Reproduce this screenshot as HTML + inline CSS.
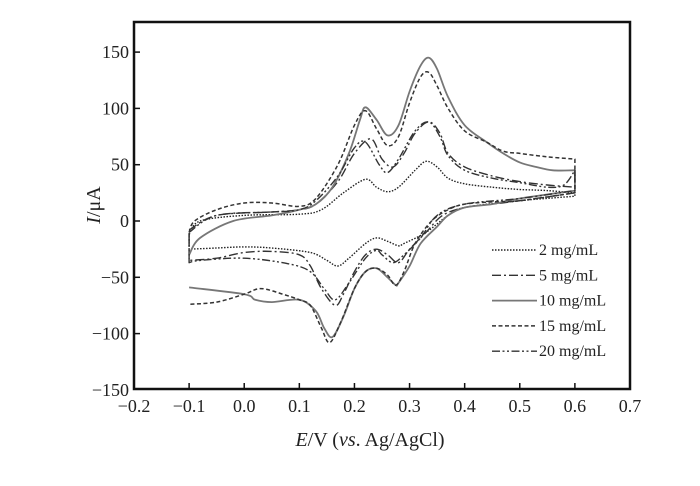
<!DOCTYPE html>
<html><head><meta charset="utf-8"><style>
html,body{margin:0;padding:0;background:#fff;}
svg text{font-family:"Liberation Serif",serif;fill:#222;}
</style></head><body>
<svg id="chart" width="700" height="481" viewBox="0 0 700 481" xmlns="http://www.w3.org/2000/svg">
<g id="plot"></g>
</svg>
<script>
const xTicks=[-0.2,-0.1,0.0,0.1,0.2,0.3,0.4,0.5,0.6,0.7];
const xTickLabels=["\u22120.2","\u22120.1","0.0","0.1","0.2","0.3","0.4","0.5","0.6","0.7"];
const yTicks=[150,100,50,0,-50,-100,-150];
const yTickLabels=["150","100","50","0","\u221250","\u2212100","\u2212150"];
const seriesNames=["2 mg/mL","5 mg/mL","10 mg/mL","15 mg/mL","20 mg/mL"];
const e2=[-0.1,-0.08,0.0,0.1,0.14,0.18,0.22,0.24,0.26,0.28,0.31,0.33,0.35,0.37,0.4,0.45,0.5,0.55,0.6,0.6,0.5,0.4,0.37,0.33,0.29,0.28,0.26,0.24,0.22,0.19,0.17,0.15,0.12,0.05,0.0,-0.05,-0.1,-0.1];
const i2=[-12,0,5,6,10,25,37,30,26,30,45,53,48,38,33,30,28,27,25,22,18,12,5,-10,-20,-22,-18,-15,-20,-33,-40,-35,-28,-24,-23,-24,-25,-12];
const e5=[-0.1,-0.05,0.05,0.1,0.13,0.17,0.2,0.23,0.25,0.27,0.29,0.31,0.335,0.355,0.37,0.4,0.45,0.5,0.55,0.6,0.6,0.5,0.45,0.4,0.36,0.33,0.3,0.28,0.26,0.24,0.22,0.2,0.18,0.165,0.14,0.12,0.1,0.05,0.0,-0.05,-0.1,-0.1];
const i5=[-8,5,8,10,15,35,60,73,55,48,60,78,88,78,60,48,40,35,32,30,25,18,15,12,5,-10,-25,-37,-30,-25,-30,-45,-65,-75,-60,-40,-30,-27,-28,-33,-35,-8];
const e10=[-0.1,-0.08,-0.02,0.05,0.1,0.13,0.16,0.19,0.21,0.22,0.24,0.26,0.28,0.3,0.32,0.335,0.35,0.37,0.4,0.44,0.47,0.5,0.53,0.56,0.6,0.6,0.5,0.45,0.4,0.37,0.35,0.32,0.3,0.28,0.275,0.26,0.24,0.22,0.2,0.18,0.16,0.145,0.13,0.1,0.05,0.02,0.0,-0.1];
const i10=[-30,-15,0,5,10,15,30,60,90,101,90,76,85,115,138,145,135,110,85,70,60,52,48,45,45,27,20,15,12,5,-5,-20,-40,-55,-57,-50,-42,-45,-60,-85,-103,-95,-80,-70,-72,-70,-65,-59];
const e15=[-0.1,-0.09,-0.05,0.0,0.05,0.1,0.13,0.17,0.2,0.22,0.24,0.26,0.28,0.3,0.32,0.335,0.35,0.37,0.4,0.44,0.47,0.5,0.55,0.6,0.6,0.5,0.45,0.4,0.37,0.34,0.31,0.29,0.275,0.26,0.24,0.22,0.2,0.175,0.155,0.14,0.12,0.1,0.07,0.03,0.0,-0.05,-0.1];
const i15=[-10,0,10,16,16,13,20,50,85,98,82,67,75,105,128,132,120,100,80,70,62,60,57,55,25,18,17,15,10,0,-20,-45,-57,-48,-42,-45,-60,-90,-108,-95,-75,-70,-65,-60,-65,-72,-74];
const e20=[-0.1,-0.05,0.05,0.1,0.13,0.17,0.2,0.22,0.245,0.26,0.28,0.31,0.335,0.355,0.37,0.4,0.45,0.5,0.55,0.58,0.6,0.6,0.5,0.4,0.35,0.32,0.29,0.27,0.25,0.24,0.22,0.19,0.165,0.145,0.12,0.08,0.0,-0.08,-0.1,-0.1];
const i20=[-10,5,8,10,18,40,65,70,50,43,55,80,88,75,58,45,38,34,30,32,45,27,20,15,5,-15,-30,-37,-30,-26,-33,-55,-70,-60,-45,-38,-33,-35,-37,-10];

const L=134,R=630,T=22,B=389;
const X=v=>L+(v+0.2)/0.9*(R-L);
const Y=v=>221-v*(56.3/50);
const NS="http://www.w3.org/2000/svg";
const svg=document.getElementById('chart');
function mk(tag,attrs,parent){const e=document.createElementNS(NS,tag);for(const k in attrs)e.setAttribute(k,attrs[k]);(parent||svg).appendChild(e);return e;}
function smoothPath(pts){
  let d="M"+pts[0][0].toFixed(1)+","+pts[0][1].toFixed(1);
  const n=pts.length;
  for(let i=0;i<n-1;i++){
    const p1=pts[i],p2=pts[i+1];
    if(Math.abs(p2[0]-p1[0])<0.5){d+="L"+p2[0].toFixed(1)+","+p2[1].toFixed(1);continue;}
    let p0=pts[Math.max(0,i-1)],p3=pts[Math.min(n-1,i+2)];
    if(Math.abs(p1[0]-p0[0])<0.5)p0=p1;
    if(Math.abs(p3[0]-p2[0])<0.5)p3=p2;
    const t=0.5/3;
    const lo=Math.min(p1[0],p2[0]),hi=Math.max(p1[0],p2[0]);
    const cl=v=>Math.max(lo,Math.min(hi,v));
    const c1=[cl(p1[0]+(p2[0]-p0[0])*t),p1[1]+(p2[1]-p0[1])*t];
    const c2=[cl(p2[0]-(p3[0]-p1[0])*t),p2[1]-(p3[1]-p1[1])*t];
    d+="C"+c1[0].toFixed(1)+","+c1[1].toFixed(1)+" "+c2[0].toFixed(1)+","+c2[1].toFixed(1)+" "+p2[0].toFixed(1)+","+p2[1].toFixed(1);
  }
  return d;
}

const styles=[
 {stroke:"#222",dash:"1.5 1.5",w:1.4},
 {stroke:"#333",dash:"9 3 2 3",w:1.4},
 {stroke:"#777",dash:"",w:1.8},
 {stroke:"#333",dash:"4 2.5",w:1.5},
 {stroke:"#333",dash:"8 2.5 2 2.5 2 2.5",w:1.4}];
const xs=[e2,e5,e10,e15,e20], ys=[i2,i5,i10,i15,i20];
const keys=["2","5","10","15","20"];
for(let s=0;s<5;s++){
  const pts=xs[s].map((v,k)=>[X(v),Y(ys[s][k])]);
  const p=mk('path',{d:smoothPath(pts),fill:"none",stroke:styles[s].stroke,"stroke-width":styles[s].w,"stroke-dasharray":styles[s].dash,"stroke-linejoin":"round"});
  
  
}
const fr=mk('rect',{x:L,y:T,width:R-L,height:B-T,fill:"none",stroke:"#111","stroke-width":2.5});


for(let k=0;k<xTicks.length;k++){
  const x=X(xTicks[k]);
  if(k>0&&k<xTicks.length-1){const t=mk('line',{x1:x,y1:B,x2:x,y2:B-6,stroke:"#111","stroke-width":1.5});}
  const tx=mk('text',{x:x,y:B+23,"text-anchor":"middle","font-size":18});
  tx.textContent=xTickLabels[k];
  
  
}
for(let k=0;k<yTicks.length;k++){
  const y=Y(yTicks[k]);
  if(yTicks[k]>-150){const t=mk('line',{x1:L,y1:y,x2:L+6,y2:y,stroke:"#111","stroke-width":1.5});}
  const ty=mk('text',{x:L-5,y:y+6,"text-anchor":"end","font-size":18});
  ty.textContent=yTickLabels[k];
  
  
}
const xt=mk('text',{x:370,y:446,"text-anchor":"middle","font-size":20});
xt.innerHTML='<tspan font-style="italic">E</tspan>/V (<tspan font-style="italic">vs</tspan>. Ag/AgCl)';


const yt=mk('text',{x:0,y:0,"text-anchor":"middle","font-size":20,transform:"translate(100,205) rotate(-90)"});
yt.innerHTML='<tspan font-style="italic">I</tspan>/μA';


const lg=mk('g',{});


for(let s=0;s<5;s++){
  const y=250+s*25.3;
  const ln=mk('line',{x1:492,y1:y,x2:537,y2:y,stroke:styles[s].stroke,"stroke-width":styles[s].w,"stroke-dasharray":styles[s].dash},lg);
  
  
  const t=mk('text',{x:539,y:y+5,"font-size":16},lg);
  t.textContent=seriesNames[s];
  
  
}
</script>
</body></html>
